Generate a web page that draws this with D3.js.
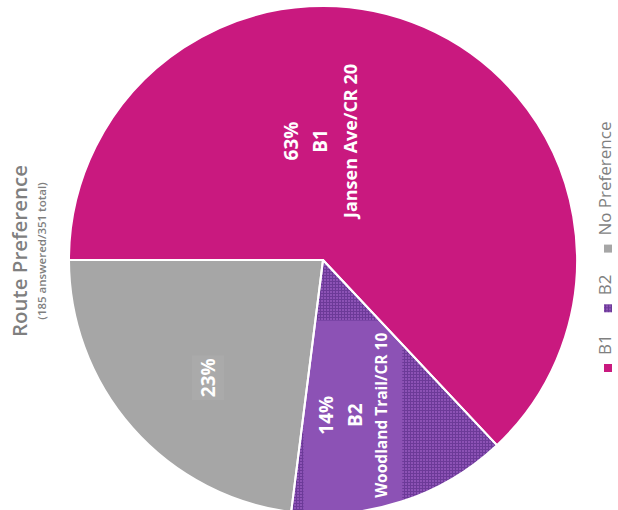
<!DOCTYPE html>
<html>
<head>
<meta charset="utf-8">
<script src="https://cdn.jsdelivr.net/npm/d3@7"></script>
<style>
  html, body { margin: 0; padding: 0; background: #ffffff; }
  svg { display: block; }
</style>
</head>
<body>
<svg id="chart" width="618" height="510"></svg>
<script>
// ---- data ----
const categories = ["B1", "B2", "No Preference"];
const values = [63, 14, 23];
const percentLabels = ["63%", "14%", "23%"];
const nameLabels = ["B1", "B2", ""];
const routeLabels = ["Jansen Ave/CR 20", "Woodland Trail/CR 10", ""];
const title = "Route Preference";
const subtitle = "(185 answered/351 total)";
const colors = ["#C9197F", "#8C52B5", "#A6A6A6"];

// ---- layout ----
const svg = d3.select("#chart");
const cx = 323, cy = 260, R = 254;
const font = "'Open Sans', 'Liberation Sans', sans-serif";

const defs = svg.append("defs");
const pat = defs.append("pattern")
  .attr("id", "b2pat").attr("patternUnits", "userSpaceOnUse")
  .attr("width", 3).attr("height", 3);
pat.append("rect").attr("width", 3).attr("height", 3).attr("fill", colors[1]);
pat.append("rect").attr("width", 3).attr("height", 1).attr("fill", "#6C3A98");
pat.append("rect").attr("width", 1).attr("height", 3).attr("fill", "#6C3A98");

const pie = d3.pie().sort(null).value(d => d)
  .startAngle(-Math.PI / 2).endAngle(Math.PI * 1.5);
const arcs = pie(values);
const arc = d3.arc().innerRadius(0).outerRadius(R);

const g = svg.append("g").attr("transform", `translate(${cx},${cy})`);

arcs.forEach((a, i) => {
  defs.append("clipPath").attr("id", "clip" + i)
    .append("path").attr("d", arc(a));
});

g.selectAll("path.slice").data(arcs).enter().append("path")
  .attr("class", "slice")
  .attr("d", arc)
  .attr("fill", (d, i) => i === 1 ? "url(#b2pat)" : colors[i]);

// label placement (polar from slice mid angle, plus nudge)
const labelRadius = [122, 158, 166];
const labelShift = [[-51, -7], [-16, 5], [10, 8]];
const lineGap = [[-29, 0, 30], [-29, 0, 26], [0, 0, 0]];
const routeSize = [18, 15.5, 0];
const bgFill = [null, colors[1], "#AAAAAA"];

const bgWrap = g.append("g");
const labelWrap = g.append("g");

arcs.forEach((a, i) => {
  const mid = (a.startAngle + a.endAngle) / 2;
  const lx = Math.sin(mid) * labelRadius[i] + labelShift[i][0];
  const ly = -Math.cos(mid) * labelRadius[i] + labelShift[i][1];
  const tg = labelWrap.append("g").attr("transform", `translate(${lx},${ly}) rotate(-90)`);
  const lines = [
    { t: percentLabels[i], s: 19 },
    { t: nameLabels[i], s: 19 },
    { t: routeLabels[i], s: routeSize[i] }
  ].filter(l => l.t);
  lines.forEach((l, k) => {
    tg.append("text")
      .attr("x", 0)
      .attr("y", (lines.length === 1 ? 0 : lineGap[i][k]))
      .attr("dy", "0.35em")
      .attr("text-anchor", "middle")
      .attr("font-family", font)
      .attr("font-weight", 700)
      .attr("font-size", l.s)
      .attr("fill", "#ffffff")
      .text(l.t);
  });
  if (bgFill[i]) {
    const bb = tg.node().getBBox();
    const padX = i === 1 ? 10 : 3;
    const padTop = i === 1 ? 12 : 3;
    const extra = i === 1 ? 60 : 3;
    bgWrap.append("g").attr("clip-path", `url(#clip${i})`)
      .append("rect")
      .attr("x", lx + bb.y - padX)
      .attr("y", ly - (bb.x + bb.width) - padTop)
      .attr("width", bb.height + 2 * padX)
      .attr("height", bb.width + padTop + extra)
      .attr("fill", bgFill[i]);
  }
});

// slice borders on top
g.selectAll("path.border").data(arcs).enter().append("path")
  .attr("class", "border")
  .attr("d", arc)
  .attr("fill", "none")
  .attr("stroke", "#ffffff")
  .attr("stroke-width", 2)
  .attr("stroke-linejoin", "round");

// ---- title ----
svg.append("text")
  .attr("transform", `translate(20,251) rotate(-90)`)
  .attr("text-anchor", "middle").attr("dy", "0.35em")
  .attr("font-family", font).attr("font-weight", 600)
  .attr("font-size", 20.5).attr("fill", "#7F7F7F")
  .text(title);
svg.append("text")
  .attr("transform", `translate(42,251) rotate(-90)`)
  .attr("text-anchor", "middle").attr("dy", "0.35em")
  .attr("font-family", font).attr("font-weight", 600)
  .attr("font-size", 11.5).attr("fill", "#7F7F7F")
  .text(subtitle);

// ---- legend (rotated, reading bottom to top) ----
const legend = svg.append("g").attr("transform", `translate(611,368) rotate(-90)`);
let off = 0;
categories.forEach((c, i) => {
  const item = legend.append("g").attr("transform", `translate(${off},0)`);
  item.append("rect").attr("x", -4).attr("y", -7).attr("width", 8).attr("height", 8)
    .attr("fill", i === 1 ? "url(#b2pat)" : colors[i]);
  const t = item.append("text").attr("x", 13).attr("y", 0)
    .attr("font-family", font).attr("font-size", 17).attr("fill", "#7F7F7F")
    .text(c);
  off += 13 + t.node().getComputedTextLength() + 26;
});
</script>
</body>
</html>
